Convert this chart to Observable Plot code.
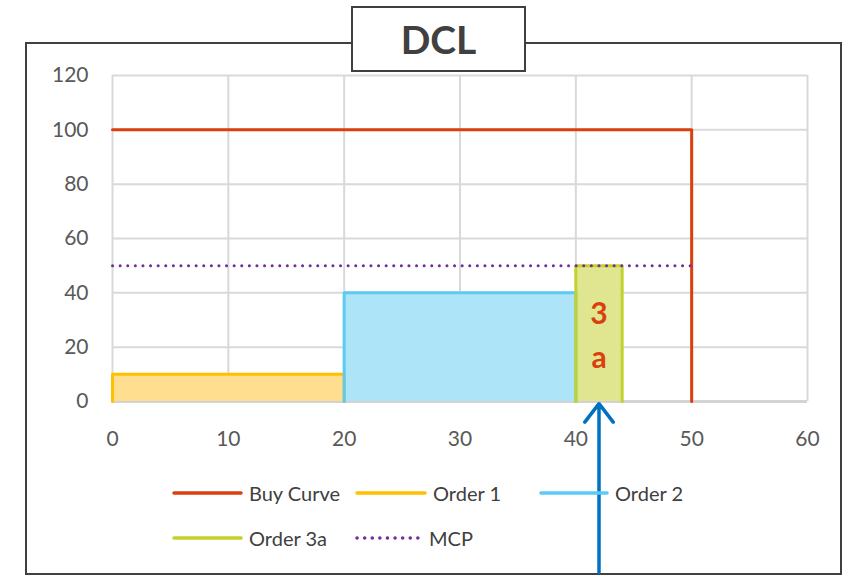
<!DOCTYPE html>
<html>
<head>
<meta charset="utf-8">
<script src="https://cdn.jsdelivr.net/npm/d3@7"></script>
<script src="https://cdn.jsdelivr.net/npm/@observablehq/plot@0.6"></script>
<style>
  html, body { margin: 0; padding: 0; background: #fff; }
  #wrap { position: relative; width: 851px; height: 575px; font-family: Lato, "Open Sans", sans-serif; }
  #frame { position: absolute; left: 25px; top: 42px; width: 813px; height: 529px; border: 2px solid #404040; box-sizing: content-box; }
  #title { position: absolute; left: 351px; top: 6px; width: 171px; height: 62px; border: 2px solid #404040; background: #fff;
           display: flex; align-items: center; justify-content: center; font-weight: bold; font-size: 39px; color: #404040; z-index: 2; }
  #chart { position: absolute; left: 0; top: 0; z-index: 1; }
  .leg { position: absolute; font-size: 20px; color: #404040; display: flex; align-items: center; z-index: 3; }
  .leg svg { margin-right: 6px; }
</style>
</head>
<body>
<div id="wrap">
  <div id="frame"></div>
  <div id="chart"></div>
  <div id="title">DCL</div>
</div>
<script>
// ---- data ----
const buyQty = [0, 50, 50];
const buyPrice = [100, 100, 0];
const orderNames = ["Order 1", "Order 2", "Order 3a"];
const orderFrom = [0, 20, 40];
const orderTo = [20, 40, 44];
const orderPrice = [10, 40, 50];
const orderLine = ["#FFC000", "#5BCBF5", "#C3D12B"];
const orderFill = ["#FFDF8F", "#AEE4F7", "#E0E690"];
const mcpPrice = 50;
const mcpQty = [0, 50];
const label3a = ["3", "a"];
const label3aY = [32, 16];
const arrowQty = 42;
const xTicks = [0, 10, 20, 30, 40, 50, 60];
const yTicks = [0, 20, 40, 60, 80, 100, 120];

const buyData = buyQty.map((q, i) => ({x: q, y: buyPrice[i]}));
const orders = orderNames.map((n, i) => ({name: n, x1: orderFrom[i], x2: orderTo[i], p: orderPrice[i], line: orderLine[i], fill: orderFill[i]}));
const orderPaths = orders.flatMap(o => [
  {name: o.name, x: o.x1, y: 0}, {name: o.name, x: o.x1, y: o.p},
  {name: o.name, x: o.x2, y: o.p}, {name: o.name, x: o.x2, y: 0}
]);
const mcpData = mcpQty.map(q => ({x: q, y: mcpPrice}));
const labels = label3a.map((t, i) => ({t, x: arrowQty, y: label3aY[i]}));

const grey = "#595959";
const chart = Plot.plot({
  width: 851, height: 575,
  marginLeft: 112, marginRight: 44, marginTop: 75, marginBottom: 174,
  x: {domain: [0, 60]},
  y: {domain: [0, 120]},
  style: {fontFamily: "Lato, 'Open Sans', sans-serif", fontSize: "20px", color: grey, background: "transparent"},
  marks: [
    Plot.gridX(xTicks, {stroke: "#d9d9d9", strokeOpacity: 1, strokeWidth: 2}),
    Plot.gridY(yTicks, {stroke: "#d9d9d9", strokeOpacity: 1, strokeWidth: 2}),
    Plot.ruleY([0], {stroke: "#cfcfcf", strokeWidth: 2.5}),
    Plot.rect(orders, {x1: "x1", x2: "x2", y1: 0, y2: "p", fill: "fill", fillOpacity: 1}),
    Plot.line(orderPaths, {x: "x", y: "y", z: "name", stroke: d => orderLine[orderNames.indexOf(d.name)], strokeWidth: 3}),
    Plot.line(buyData, {x: "x", y: "y", stroke: "#D9400E", strokeWidth: 3}),
    Plot.line(mcpData, {x: "x", y: "y", stroke: "#7030A0", strokeWidth: 3, strokeDasharray: "0.1 7.5", strokeLinecap: "round"}),
    Plot.text(labels, {x: "x", y: "y", text: "t", fill: "#D9400E", fontSize: 30, fontWeight: "bold"}),
    Plot.arrow([{x: arrowQty}], {x1: "x", x2: "x", y1: -63, y2: -0.8, stroke: "#0070C0", strokeWidth: 3.5, headLength: 10, headAngle: 75, bend: false}),
    Plot.axisX(xTicks, {tickSize: 0, tickPadding: 30, fill: grey, fontSize: 21, label: null}),
    Plot.axisY(yTicks, {tickSize: 0, tickPadding: 24, fill: grey, fontSize: 21, label: null})
  ]
});
document.getElementById("chart").appendChild(chart);

// ---- legend ----
const legendItems = [
  {name: "Buy Curve", color: "#D9400E", dash: null, left: 172, top: 493},
  {name: "Order 1", color: orderLine[0], dash: null, left: 355, top: 493},
  {name: "Order 2", color: orderLine[1], dash: null, left: 539, top: 493},
  {name: "Order 3a", color: orderLine[2], dash: null, left: 172, top: 538},
  {name: "MCP", color: "#7030A0", dash: "0.1 7.5", left: 355, top: 538}
];
const swatchW = [71, 72, 70, 71, 68];
const wrap = document.getElementById("wrap");
legendItems.forEach((it, i) => {
  const d = document.createElement("div");
  d.className = "leg";
  d.style.left = it.left + "px";
  d.style.top = (it.top - 12) + "px";
  const w = swatchW[i];
  d.innerHTML = `<svg width="${w}" height="24"><line x1="2" x2="${w - 2}" y1="12" y2="12" stroke="${it.color}" stroke-width="3.5" stroke-linecap="round" ${it.dash ? `stroke-dasharray="${it.dash}"` : ""}/></svg><span>${it.name}</span>`;
  wrap.appendChild(d);
});
</script>
</body>
</html>
